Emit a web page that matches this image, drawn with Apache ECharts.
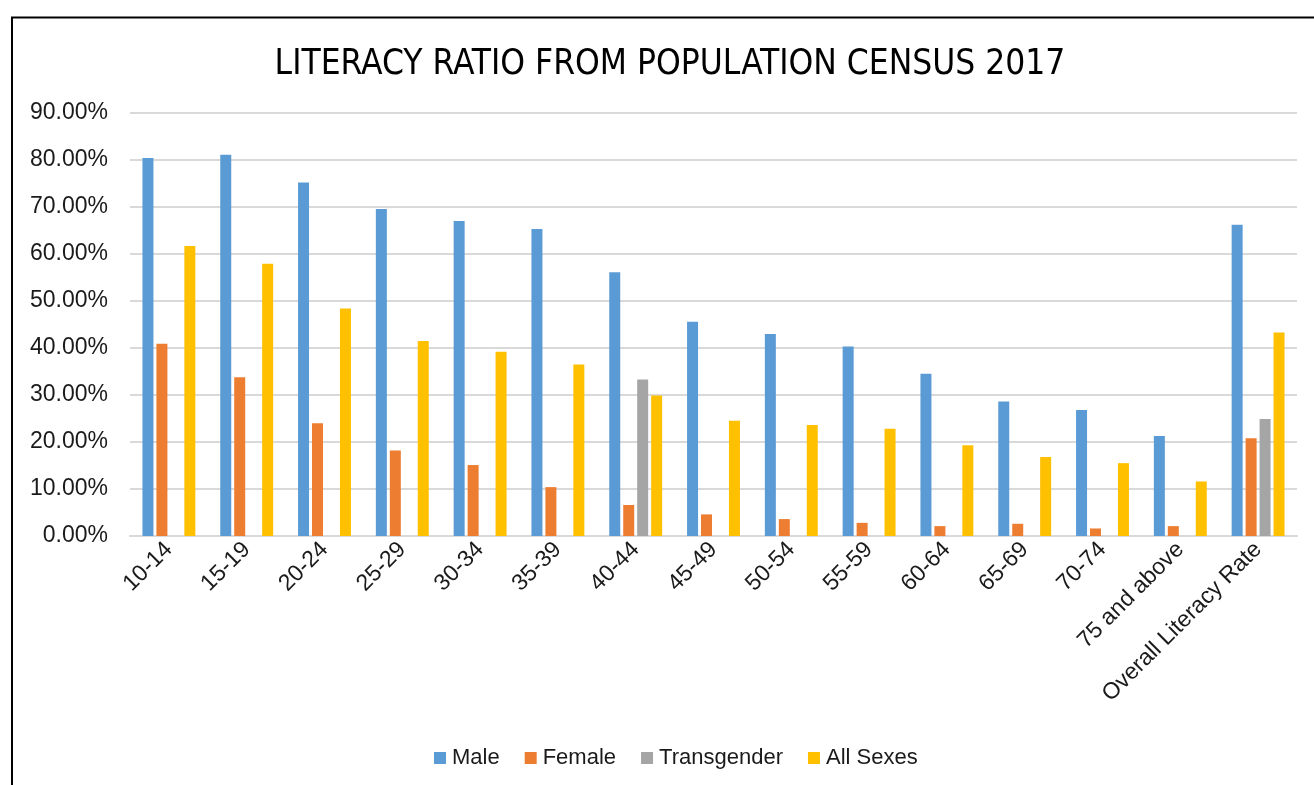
<!DOCTYPE html>
<html>
<head>
<meta charset="utf-8">
<title>Literacy Ratio from Population Census 2017</title>
<script src="https://cdn.jsdelivr.net/npm/echarts@6/dist/echarts.min.js"></script>
<style>
  html, body { margin: 0; padding: 0; background: #ffffff; }
  #chart { width: 1314px; height: 785px; }
</style>
</head>
<body>
<div id="chart"></div>
<script>
// Age groups plus the overall rate
const categories = ['10-14', '15-19', '20-24', '25-29', '30-34', '35-39', '40-44', '45-49',
  '50-54', '55-59', '60-64', '65-69', '70-74', '75 and above', 'Overall Literacy Rate'];

// Literacy ratio (%) by sex
const male = [80.4, 81.1, 75.2, 69.6, 67.0, 65.3, 56.1, 45.6, 43.0, 40.3, 34.5, 28.6, 26.8, 21.3, 66.2];
const female = [40.9, 33.8, 24.0, 18.2, 15.1, 10.4, 6.6, 4.6, 3.6, 2.8, 2.1, 2.6, 1.6, 2.1, 20.8];
const transgender = [null, null, null, null, null, null, 33.3, null, null, null, null, null, null, null, 24.9];
const allSexes = [61.7, 57.9, 48.4, 41.5, 39.2, 36.5, 29.9, 24.5, 23.6, 22.8, 19.3, 16.8, 15.5, 11.6, 43.3];

const seriesNames = ['Male', 'Female', 'Transgender', 'All Sexes'];
const seriesColors = ['#5B9BD5', '#ED7D31', '#A5A5A5', '#FFC000'];
const seriesData = [male, female, transgender, allSexes];

const chart = echarts.init(document.getElementById('chart'), null, { renderer: 'canvas' });

const labelFont = 'Liberation Sans, Arial, sans-serif';

chart.setOption({
  backgroundColor: '#ffffff',
  animation: false,
  color: seriesColors,
  title: {
    text: 'LITERACY RATIO FROM POPULATION CENSUS 2017',
    left: 665,
    textAlign: 'center',
    top: 42,
    textStyle: {
      fontFamily: '"Liberation Sans Narrow", "DejaVu Sans Condensed", Arial, sans-serif',
      fontSize: 35,
      fontWeight: 'normal',
      color: '#000000'
    }
  },
  graphic: [{
    type: 'rect',
    shape: { x: 12, y: 17.5, width: 1400, height: 1000 },
    style: { fill: 'none', stroke: '#000000', lineWidth: 2 },
    silent: true,
    z: -1
  }],
  legend: {
    data: seriesNames,
    left: 429,
    top: 742,
    itemWidth: 12,
    itemHeight: 12,
    itemGap: 25,
    icon: 'rect',
    textStyle: { fontFamily: labelFont, fontSize: 22, color: '#1a1a1a', padding: [0, 0, 0, 1] }
  },
  grid: { left: 130, right: 17, top: 113, bottom: 249, containLabel: false },
  xAxis: {
    type: 'category',
    data: categories,
    axisTick: { show: false },
    axisLine: { lineStyle: { color: '#d9d9d9', width: 2 } },
    axisLabel: {
      interval: 0,
      rotate: 45,
      margin: 10,
      fontFamily: labelFont,
      fontSize: 23,
      color: '#1a1a1a'
    }
  },
  yAxis: {
    type: 'value',
    min: 0,
    max: 90,
    interval: 10,
    axisLine: { show: false },
    axisTick: { show: false },
    splitLine: { lineStyle: { color: '#d9d9d9', width: 2 } },
    axisLabel: {
      margin: 22,
      fontFamily: labelFont,
      fontSize: 23,
      color: '#1a1a1a',
      formatter: v => v.toFixed(2) + '%'
    }
  },
  series: seriesNames.map((name, i) => ({
    name,
    type: 'bar',
    data: seriesData[i],
    barGap: '27%',
    barCategoryGap: '32%',
    itemStyle: { color: seriesColors[i] }
  }))
});
</script>
</body>
</html>
